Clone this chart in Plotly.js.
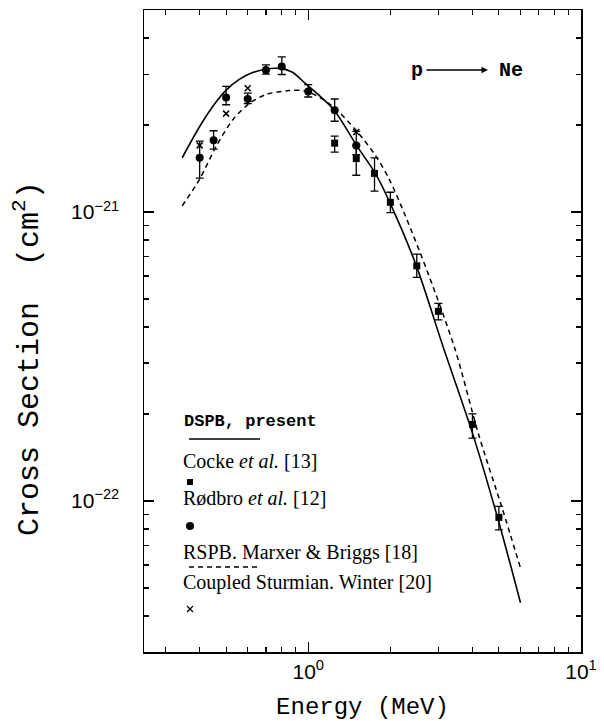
<!DOCTYPE html>
<html>
<head>
<meta charset="utf-8">
<script src="https://cdn.plot.ly/plotly-3.0.1.min.js"></script>
<style>html,body{margin:0;padding:0;background:#fff;}#chart{width:604px;height:721px;}</style>
</head>
<body>
<div id="chart"></div>
<script>
// DSPB, present (solid curve)
const dspbEnergy = [0.345, 0.398, 0.444, 0.498, 0.557, 0.622, 0.698, 0.781, 0.872, 0.978, 1.24, 1.51, 1.77, 1.99, 2.49, 3.14, 3.99, 4.99, 6.0];
const dspbSigma  = [1.54e-21, 1.96e-21, 2.30e-21, 2.63e-21, 2.87e-21, 3.03e-21, 3.12e-21, 3.14e-21, 3.05e-21, 2.78e-21, 2.26e-21, 1.69e-21, 1.35e-21, 1.08e-21, 6.52e-22, 3.36e-22, 1.73e-22, 8.49e-23, 4.44e-23];

// RSPB, Marxer & Briggs (dashed curve)
const rspbEnergy = [0.345, 0.40, 0.46, 0.53, 0.61, 0.70, 0.85, 0.98, 1.21, 1.51, 1.77, 1.98, 2.27, 2.77, 3.45, 4.22, 5.14, 6.0];
const rspbSigma  = [1.05e-21, 1.30e-21, 1.69e-21, 2.09e-21, 2.38e-21, 2.55e-21, 2.63e-21, 2.62e-21, 2.35e-21, 1.90e-21, 1.56e-21, 1.30e-21, 9.7e-22, 6.02e-22, 3.36e-22, 1.69e-22, 9.44e-23, 5.86e-23];

// Rødbro et al. [12] (circles)
const rodbroEnergy = [0.40, 0.45, 0.50, 0.60, 0.70, 0.80, 1.00, 1.25, 1.50];
const rodbroSigma  = [1.54e-21, 1.77e-21, 2.49e-21, 2.46e-21, 3.10e-21, 3.19e-21, 2.61e-21, 2.25e-21, 1.70e-21];
const rodbroHigh   = [1.76e-21, 1.91e-21, 2.72e-21, 2.58e-21, 3.23e-21, 3.44e-21, 2.76e-21, 2.46e-21, 1.90e-21];
const rodbroLow    = [1.31e-21, 1.65e-21, 2.35e-21, 2.37e-21, 3.00e-21, 2.99e-21, 2.50e-21, 2.06e-21, 1.58e-21];

// Cocke et al. [13] (squares)
const cockeEnergy = [1.25, 1.5, 1.75, 2.0, 2.5, 3.0, 4.0, 5.0];
const cockeSigma  = [1.73e-21, 1.53e-21, 1.36e-21, 1.08e-21, 6.51e-22, 4.53e-22, 1.84e-22, 8.77e-23];
const cockeHigh   = [1.83e-21, 1.70e-21, 1.54e-21, 1.17e-21, 7.15e-22, 4.83e-22, 2.00e-22, 9.57e-23];
const cockeLow    = [1.61e-21, 1.34e-21, 1.18e-21, 0.995e-21, 5.94e-22, 4.23e-22, 1.65e-22, 7.94e-23];

// Coupled Sturmian, Winter [20] (crosses)
const winterEnergy = [0.4, 0.5, 0.6, 1.5];
const winterSigma  = [1.70e-21, 2.19e-21, 2.68e-21, 1.89e-21];

// Axis ticks
const xMajorVals = [1, 10];
const xMajorText = ['10<sup>0</sup>', '10<sup>1</sup>'];
const xMinorVals = [0.3, 0.4, 0.5, 0.6, 0.7, 0.8, 0.9, 2, 3, 4, 5, 6, 7, 8, 9];
const yMajorVals = [1e-22, 1e-21];
const yMajorText = ['10<sup>\u221222</sup>', '10<sup>\u221221</sup>'];
const yMinorVals = [4e-23, 5e-23, 6e-23, 7e-23, 8e-23, 9e-23, 2e-22, 3e-22, 4e-22, 5e-22, 6e-22, 7e-22, 8e-22, 9e-22, 2e-21, 3e-21, 4e-21];

const diff = (a, b) => a.map((v, i) => v - b[i]);

const traces = [
  {x: dspbEnergy, y: dspbSigma, mode: 'lines', line: {color: 'black', width: 1.6, shape: 'spline', smoothing: 0.8}},
  {x: rspbEnergy, y: rspbSigma, mode: 'lines', line: {color: 'black', width: 1.5, dash: '5px,4px', shape: 'spline', smoothing: 0.8}},
  {x: rodbroEnergy, y: rodbroSigma, mode: 'markers', marker: {symbol: 'circle', size: 8, color: 'black'},
   error_y: {type: 'data', symmetric: false, array: diff(rodbroHigh, rodbroSigma), arrayminus: diff(rodbroSigma, rodbroLow), color: 'black', thickness: 1.3, width: 4}},
  {x: cockeEnergy, y: cockeSigma, mode: 'markers', marker: {symbol: 'square', size: 7, color: 'black'},
   error_y: {type: 'data', symmetric: false, array: diff(cockeHigh, cockeSigma), arrayminus: diff(cockeSigma, cockeLow), color: 'black', thickness: 1.3, width: 4}},
  {x: winterEnergy, y: winterSigma, mode: 'markers', marker: {symbol: 'x-thin', size: 6, color: 'black', line: {color: 'black', width: 1.5}}}
];

// legend layout helpers (paper coordinates)
const W = 437, H = 642, L = 144, T = 10;
const px = v => (v - L) / W;
const py = v => (T + H - v) / H;

const serif = {family: 'Liberation Serif, serif', size: 20, color: 'black'};
const mono = s => ({family: 'Liberation Mono, monospace', size: s, color: 'black'});
const ann = (x, y, text, font, xanchor) => ({xref: 'paper', yref: 'paper', x: px(x), y: py(y), text: text, showarrow: false, xanchor: xanchor || 'left', yanchor: 'middle', font: font});

const annotations = [
  ann(182, 421, '<b>DSPB, present</b>', mono(17)),
  ann(181, 461, 'Cocke <i>et al.</i> [13]', serif),
  ann(181, 498, 'R\u00f8dbro <i>et al.</i> [12]', serif),
  ann(181, 552, 'RSPB. Marxer &amp; Briggs [18]', serif),
  ann(181, 582, 'Coupled Sturmian. Winter [20]', serif),
  ann(497, 70, '<b>Ne</b>', mono(20)),
  {xref: 'paper', yref: 'paper', x: px(488), y: py(70), text: '<b>p</b>', showarrow: true, axref: 'pixel', ayref: 'pixel', ax: -71, ay: 0,
   arrowhead: 2, arrowsize: 1, arrowwidth: 1.3, arrowcolor: 'black', standoff: 0, startstandoff: 2, font: mono(20)},
  {xref: 'paper', yref: 'paper', x: px(27), y: py(359), text: 'Cross Section  (cm<sup>2</sup>)', textangle: -90, showarrow: false,
   xanchor: 'center', yanchor: 'middle', font: mono(30)}
];

const shapes = [
  {type: 'line', xref: 'paper', yref: 'paper', x0: px(189), x1: px(260), y0: py(439), y1: py(439), line: {color: 'black', width: 1.5}},
  {type: 'line', xref: 'paper', yref: 'paper', x0: px(189), x1: px(260), y0: py(567), y1: py(567), line: {color: 'black', width: 1.5, dash: '5px,4px'}},
  {type: 'rect', xref: 'paper', yref: 'paper', xsizemode: 'pixel', ysizemode: 'pixel', xanchor: px(190), yanchor: py(482), x0: -3, x1: 3, y0: -3, y1: 3, fillcolor: 'black', line: {width: 0}},
  {type: 'circle', xref: 'paper', yref: 'paper', xsizemode: 'pixel', ysizemode: 'pixel', xanchor: px(190), yanchor: py(526), x0: -4, x1: 4, y0: -4, y1: 4, fillcolor: 'black', line: {width: 0}},
  {type: 'line', xref: 'paper', yref: 'paper', xsizemode: 'pixel', ysizemode: 'pixel', xanchor: px(190), yanchor: py(609), x0: -3, x1: 3, y0: -3, y1: 3, line: {color: 'black', width: 1.3}},
  {type: 'line', xref: 'paper', yref: 'paper', xsizemode: 'pixel', ysizemode: 'pixel', xanchor: px(190), yanchor: py(609), x0: -3, x1: 3, y0: 3, y1: -3, line: {color: 'black', width: 1.3}}
];

const tickFont = {family: 'Liberation Sans, Arial, sans-serif', size: 21, color: 'black'};

const layout = {
  width: 604, height: 721,
  margin: {l: 144, r: 23, t: 10, b: 69},
  paper_bgcolor: 'white', plot_bgcolor: 'white',
  showlegend: false,
  xaxis: {
    type: 'log', range: [Math.log10(0.25), 1], showgrid: false, zeroline: false,
    showline: true, linecolor: 'black', linewidth: 1.5, mirror: 'allticks',
    ticks: 'inside', ticklen: 10, tickwidth: 1.2, tickcolor: 'black',
    tickmode: 'array', tickvals: xMajorVals, ticktext: xMajorText, tickfont: tickFont,
    minor: {tickmode: 'array', tickvals: xMinorVals, ticks: 'inside', ticklen: 5, tickwidth: 1.2, tickcolor: 'black', showgrid: false},
    title: {text: 'Energy (MeV)', font: mono(24), standoff: 16}
  },
  yaxis: {
    type: 'log', range: [Math.log10(3e-23), Math.log10(5e-21)], showgrid: false, zeroline: false,
    showline: true, linecolor: 'black', linewidth: 1.5, mirror: 'allticks',
    ticks: 'inside', ticklen: 10, tickwidth: 1.2, tickcolor: 'black',
    tickmode: 'array', tickvals: yMajorVals, ticktext: yMajorText, tickfont: tickFont,
    ticklabelstandoff: 19,
    minor: {tickmode: 'array', tickvals: yMinorVals, ticks: 'inside', ticklen: 5, tickwidth: 1.2, tickcolor: 'black', showgrid: false}
  },
  annotations: annotations,
  shapes: shapes
};

Plotly.newPlot('chart', traces, layout, {displayModeBar: false, staticPlot: true});
</script>
</body>
</html>
